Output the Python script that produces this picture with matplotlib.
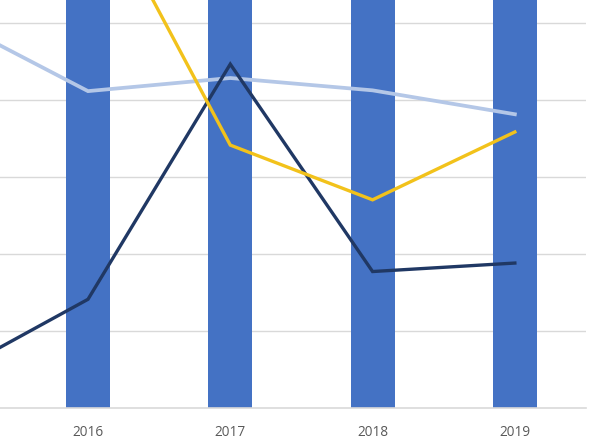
import matplotlib
matplotlib.use("Agg")
import matplotlib.pyplot as plt
import numpy as np

years = ["2015", "2016", "2017", "2018", "2019"]
bar_values = [10.0, 10.0, 10.0, 10.0, 10.0]
light_blue_values = [5.07, 4.11, 4.28, 4.12, 3.81]
navy_values = [0.40, 1.41, 4.46, 1.77, 1.88]
yellow_values = [7.5, 6.87, 3.41, 2.70, 3.58]

x = np.arange(len(years))

fig = plt.figure(figsize=(6, 4.46), dpi=100)
ax = fig.add_axes([0, 38 / 446, 586 / 600, 408 / 446])

ax.bar(x, bar_values, width=0.31, color="#4472C4", zorder=2)
ax.plot(x, light_blue_values, color="#B4C7E7", lw=2.7, zorder=3, solid_joinstyle="miter")
ax.plot(x, navy_values, color="#203864", lw=2.4, zorder=4, solid_joinstyle="miter")
ax.plot(x, yellow_values, color="#F2C21B", lw=2.4, zorder=5, solid_joinstyle="miter")

ax.set_xlim(1 - 88 / 142.3, 4.5)
ax.set_ylim(0, 408 / 77.1)
ax.set_yticks([1, 2, 3, 4, 5])
ax.yaxis.grid(True, color="#D9D9D9", lw=1.0, zorder=0)
ax.set_axisbelow(True)
ax.set_xticks(x[1:])
ax.set_xticklabels(years[1:], family="Open Sans", fontsize=9.8, color="#595959")
ax.tick_params(axis="x", length=0, pad=12)
ax.tick_params(axis="y", length=0, labelleft=False)
for s in ["top", "right", "left"]:
    ax.spines[s].set_visible(False)
ax.spines["bottom"].set_color("#D9D9D9")
ax.spines["bottom"].set_linewidth(1.2)

fig.savefig("out.png", dpi=100)
